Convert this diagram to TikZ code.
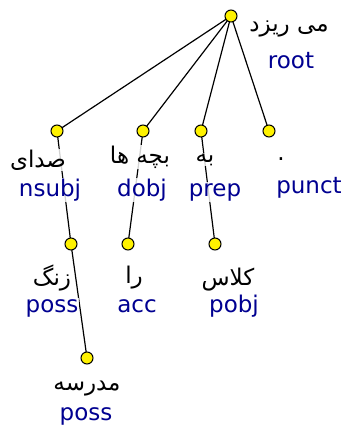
\documentclass[tikz,border=0pt]{standalone}
\usepackage{fontspec}
\setmainfont{DejaVu Sans}
\newfontfamily\arabicfont[Script=Arabic]{DejaVu Sans}
\TeXXeTstate=1
\definecolor{rel}{RGB}{0,0,145}

\begin{document}
\begin{tikzpicture}[x=1pt,y=-1pt,
  tok/.style={circle, draw=black, fill=yellow, minimum size=12pt, inner sep=0pt, line width=1pt},
  word/.style={anchor=base, inner sep=1pt, fill=white, fill opacity=0.82, text opacity=1,
    font=\arabicfont\fontsize{23}{27}\selectfont},
  lab/.style={anchor=base, inner sep=1pt, fill=white, fill opacity=0.82, text opacity=1,
    text=rel, font=\fontsize{23}{27}\selectfont},
  edge/.style={draw=black, line width=1.2pt}]
\useasboundingbox (0,0) rectangle (344,428);

% token positions
\coordinate (root) at (231,16);
\coordinate (sedaye) at (57,131);
\coordinate (bacheha) at (143,131);
\coordinate (be) at (201,131);
\coordinate (dot) at (269,131);
\coordinate (zang) at (71,244);
\coordinate (ra) at (128,244);
\coordinate (kelas) at (215,244);
\coordinate (madrese) at (87,358);

% dependency arcs
\draw[edge] (root) -- (sedaye);
\draw[edge] (root) -- (bacheha);
\draw[edge] (root) -- (be);
\draw[edge] (root) -- (dot);
\draw[edge] (sedaye) -- (zang);
\draw[edge] (zang) -- (madrese);
\draw[edge] (bacheha) -- (ra);
\draw[edge] (be) -- (kelas);

% words and relation labels
\node[word] (w-root) at (289,32) {\beginR می ریزد\endR};
\node[lab]  (l-root) at (291,68) {root};
\node[word] (w-sedaye) at (38,167) {\beginR صدای\endR};
\node[lab]  (l-sedaye) at (50,196) {nsubj};
\node[word] (w-bacheha) at (140,163) {\beginR بچه ها\endR};
\node[lab]  (l-bacheha) at (142,196) {dobj};
\node[word] (w-be) at (205,162) {\beginR به\endR};
\node[lab]  (l-be) at (215,196) {prep};
\node[word] (w-dot) at (281,160) {.};
\node[lab]  (l-dot) at (309,193) {punct};
\node[word] (w-zang) at (52,285) {\beginR زنگ\endR};
\node[lab]  (l-zang) at (52,312) {poss};
\node[word] (w-ra) at (134,283) {\beginR را\endR};
\node[lab]  (l-ra) at (137,312) {acc};
\node[word] (w-kelas) at (228,285) {\beginR کلاس\endR};
\node[lab]  (l-kelas) at (234,312) {pobj};
\node[word] (w-madrese) at (87,390) {\beginR مدرسه\endR};
\node[lab]  (l-madrese) at (86,420) {poss};

% token markers
\foreach \t in {root,sedaye,bacheha,be,dot,zang,ra,kelas,madrese}
  \node[tok] (c-\t) at (\t) {};
\end{tikzpicture}
\end{document}
